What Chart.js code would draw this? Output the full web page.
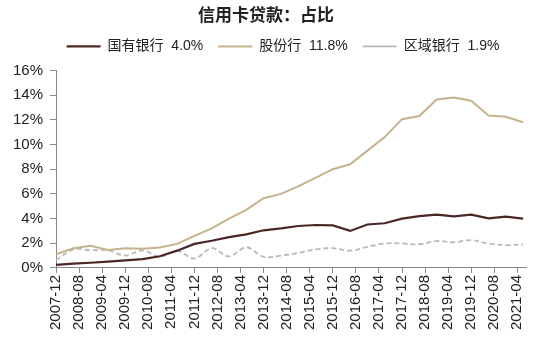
<!DOCTYPE html>
<html>
<head>
<meta charset="utf-8">
<script src="https://cdn.jsdelivr.net/npm/chart.js@4/dist/chart.umd.min.js"></script>
<style>
html,body{margin:0;padding:0;background:#fff;}
#wrap{width:542px;height:338px;position:relative;}
</style>
</head>
<body>
<div id="wrap"><canvas id="c" width="542" height="338"></canvas></div>
<script>
const titleText = '信用卡贷款：占比';
const dates = ['2007-12','2008-06','2008-12','2009-06','2009-12','2010-06','2010-12','2011-06','2011-12','2012-06','2012-12','2013-06','2013-12','2014-06','2014-12','2015-06','2015-12','2016-06','2016-12','2017-06','2017-12','2018-06','2018-12','2019-06','2019-12','2020-06','2020-12','2021-06'];
const stateBanks = [0.25,0.35,0.42,0.52,0.62,0.72,0.95,1.4,1.95,2.2,2.5,2.72,3.05,3.2,3.4,3.48,3.45,3.0,3.52,3.62,4.0,4.2,4.32,4.18,4.32,4.02,4.15,4.0];
const jointStock = [1.1,1.6,1.8,1.45,1.6,1.55,1.65,1.95,2.6,3.2,4.0,4.7,5.65,6.0,6.6,7.3,8.0,8.4,9.5,10.6,12.05,12.3,13.65,13.8,13.55,12.35,12.25,11.8];
const regional = [0.63,1.5,1.44,1.44,1.0,1.42,0.9,1.38,0.76,1.6,0.93,1.68,0.9,1.0,1.22,1.5,1.6,1.4,1.71,1.98,1.98,1.92,2.18,2.08,2.25,1.98,1.85,1.9];
const seriesNames = ['国有银行  4.0%','股份行  11.8%','区域银行  1.9%'];
const xTickLabels = ['2007-12','2008-08','2009-04','2009-12','2010-08','2011-04','2011-12','2012-08','2013-04','2013-12','2014-08','2015-04','2015-12','2016-08','2017-04','2017-12','2018-08','2019-04','2019-12','2020-08','2021-04'];
const yTicks = [0,2,4,6,8,10,12,14,16];

function monthIndex(s){
  const [y,m] = s.split('-').map(Number);
  return (y - 2007) * 12 + (m - 12);
}
const tickPositions = xTickLabels.map(monthIndex);
const toPoints = arr => dates.map((d,i) => ({x: monthIndex(d), y: arr[i]}));

const latin = '"Liberation Sans", Arial, "Noto Sans CJK SC", sans-serif';

const legendTweak = {
  id: 'legendTweak',
  beforeInit(chart) {
    const lg = chart.legend;
    const fit = lg.fit;
    lg.fit = function() { fit.call(lg); lg.height += 7; };
  },
  afterLayout(chart) {
    chart.legend.left += 17;
    chart.legend.right += 17;
  }
};

new Chart(document.getElementById('c'), {
  type: 'line',
  data: {
    datasets: [
      {label: seriesNames[0], data: toPoints(stateBanks), borderColor: '#4b2626', backgroundColor: '#4b2626', borderWidth: 2.2, pointRadius: 0, tension: 0},
      {label: seriesNames[1], data: toPoints(jointStock), borderColor: '#c6b28c', backgroundColor: '#c6b28c', borderWidth: 2, pointRadius: 0, tension: 0},
      {label: seriesNames[2], data: toPoints(regional), borderColor: '#b9b9b9', backgroundColor: '#b9b9b9', borderWidth: 1.8, borderDash: [5,3], pointRadius: 0, tension: 0.35}
    ]
  },
  plugins: [legendTweak],
  options: {
    responsive: false,
    animation: false,
    devicePixelRatio: 1,
    layout: {padding: {left: 6, right: 16, top: 4, bottom: 6}},
    plugins: {
      title: {display: true, text: titleText, color: '#222', font: {family: '"Noto Sans CJK SC", sans-serif', size: 17, weight: 'bold'}, padding: {top: 0, bottom: 0}},
      legend: {
        display: true,
        position: 'top',
        labels: {
          usePointStyle: true,
          pointStyle: 'line',
          pointStyleWidth: 34,
          boxHeight: 14,
          padding: 15,
          color: '#222',
          font: {family: latin, size: 14}
        }
      },
      tooltip: {enabled: false}
    },
    scales: {
      x: {
        type: 'linear',
        min: 0,
        max: 163,
        afterBuildTicks: s => { s.ticks = tickPositions.map(v => ({value: v})); },
        ticks: {
          autoSkip: false,
          minRotation: 90,
          maxRotation: 90,
          color: '#222',
          font: {family: latin, size: 15},
          padding: 2,
          callback: (v) => { const i = tickPositions.indexOf(v); return i >= 0 ? xTickLabels[i] : ''; }
        },
        grid: {display: true, drawOnChartArea: false, drawTicks: true, tickLength: 5, color: '#888'},
        border: {display: true, color: '#888'}
      },
      y: {
        min: 0,
        max: 16,
        afterBuildTicks: s => { s.ticks = yTicks.map(v => ({value: v})); },
        ticks: {
          color: '#222',
          font: {family: latin, size: 15},
          padding: 7,
          callback: v => v + '%'
        },
        grid: {display: true, drawOnChartArea: false, drawTicks: true, tickLength: 6, color: '#888'},
        border: {display: true, color: '#888'}
      }
    }
  }
});
</script>
</body>
</html>
